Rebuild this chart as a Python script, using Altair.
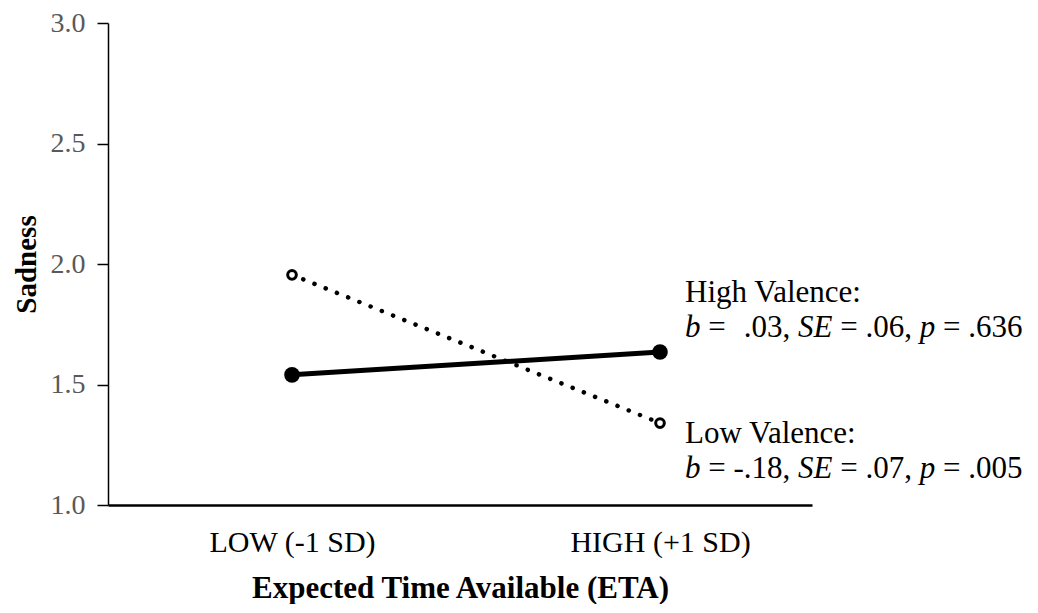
import altair as alt
import pandas as pd

# ---- data ----
categories = ["LOW (-1 SD)", "HIGH (+1 SD)"]
high_valence = [1.54, 1.635]
low_valence = [1.955, 1.34]
y_ticks = [1.0, 1.5, 2.0, 2.5, 3.0]

ann_titles = ["High Valence:", "Low Valence:"]
b_values = [".03,", "-.18,"]
se_values = [".06,", ".07,"]
p_values = [".636", ".005"]

FONT = "Liberation Serif"

df = pd.DataFrame({
    "idx": [0, 1, 0, 1],
    "category": categories + categories,
    "value": high_valence + low_valence,
    "series": ["High Valence"] * 2 + ["Low Valence"] * 2,
})
hi = df[df.series == "High Valence"]
lo = df[df.series == "Low Valence"]

label_expr = "datum.value == 0 ? '%s' : '%s'" % (categories[0], categories[1])

x_enc = alt.X(
    "idx:Q",
    scale=alt.Scale(domain=[-0.5, 1.413], nice=False, zero=False),
    axis=alt.Axis(
        values=[0, 1], labelExpr=label_expr, ticks=False, labelLimit=0,
        labelFont=FONT, labelFontSize=30, labelColor="#000000",
        labelPadding=22, domainColor="#000000", domainWidth=2.5,
        grid=False, title="Expected Time Available (ETA)",
        titleFont=FONT, titleFontSize=31, titleFontWeight="bold",
        titleColor="#000000", titlePadding=16,
    ),
)
y_enc = alt.Y(
    "value:Q",
    scale=alt.Scale(domain=[1, 3], nice=False, zero=False),
    axis=alt.Axis(
        values=y_ticks, format=".1f", tickSize=11, tickColor="#000000",
        tickWidth=1.5, domainColor="#000000", domainWidth=1.5,
        labelFont=FONT, labelFontSize=28, labelColor="#595959",
        labelPadding=12, grid=False, title="Sadness",
        titleFont=FONT, titleFontSize=29, titleFontWeight="bold",
        titleColor="#000000", titleX=-73, titleBaseline="alphabetic",
    ),
)

line_hi = alt.Chart(hi).mark_line(color="#000000", strokeWidth=5).encode(x=x_enc, y=y_enc)
line_lo = alt.Chart(lo).mark_line(
    color="#000000", strokeWidth=4.5, strokeDash=[0.1, 12], strokeCap="round"
).encode(x=x_enc, y=y_enc)
pt_hi = alt.Chart(hi).mark_point(
    shape="circle", filled=True, color="#000000", size=245, opacity=1
).encode(x=x_enc, y=y_enc)
pt_lo = alt.Chart(lo).mark_point(
    shape="circle", filled=True, fill="#ffffff", stroke="#000000",
    strokeWidth=3, size=75, opacity=1
).encode(x=x_enc, y=y_enc)

# ---- annotations (positions computed from Times metrics) ----
F = 31
x0 = 577          # left edge of annotation block, relative to plot
TOP = 15
line_y = [(294 - TOP, 329 - TOP), (435 - TOP, 470 - TOP)]
ital_rows, norm_rows, right_rows = [], [], []
for i in range(2):
    y1, y2 = line_y[i]
    norm_rows.append({"t": ann_titles[i], "px": x0, "py": y1})
    ital_rows.append({"t": "b", "px": x0, "py": y2})
    norm_rows.append({"t": "=", "px": x0 + 0.75 * F, "py": y2})
    right_rows.append({"t": b_values[i], "px": x0 + 3.397 * F, "py": y2})
    ital_rows.append({"t": "SE", "px": x0 + 3.647 * F, "py": y2})
    norm_rows.append({"t": "=", "px": x0 + 5.008 * F, "py": y2})
    norm_rows.append({"t": se_values[i], "px": x0 + 5.822 * F, "py": y2})
    ital_rows.append({"t": "p", "px": x0 + 7.572 * F, "py": y2})
    norm_rows.append({"t": "=", "px": x0 + 8.322 * F, "py": y2})
    norm_rows.append({"t": p_values[i], "px": x0 + 9.136 * F, "py": y2})


def text_layer(rows, style, align):
    return alt.Chart(pd.DataFrame(rows)).mark_text(
        font=FONT, fontSize=F, fontStyle=style, align=align,
        baseline="alphabetic", color="#000000"
    ).encode(
        x=alt.X("px:Q", scale=None),
        y=alt.Y("py:Q", scale=None),
        text="t:N",
    )


ann = text_layer(norm_rows, "normal", "left") + text_layer(ital_rows, "italic", "left") + \
    text_layer(right_rows, "normal", "right")

chart = alt.layer(line_hi, line_lo, pt_hi, pt_lo, ann).properties(
    width=704, height=482,
    autosize=alt.AutoSizeParams(type="none"),
    padding={"left": 100, "top": TOP, "right": 218, "bottom": 99},
    background="#ffffff",
).configure_view(stroke=None)

chart.save("out.html", embed_options={"renderer": "svg", "actions": False})
